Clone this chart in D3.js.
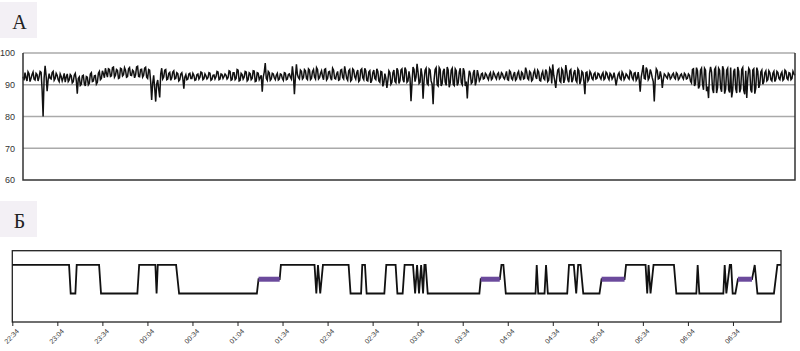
<!DOCTYPE html>
<html>
<head>
<meta charset="utf-8">
<script src="https://cdn.jsdelivr.net/npm/d3@7"></script>
<style>
  body { margin: 0; background: #fff; }
  svg { display: block; }
</style>
</head>
<body>
<svg width="800" height="351"></svg>
<script>
// Начало записи и длительность (мин)
const startTime = new Date(2000, 0, 1, 22, 34);
const totalMinutes = 512;

// Панель A: SpO2, отсчёт каждые 40 с
const spo2Interval = 40;
const spo2 = [
  92.5, 91.4, 93.8, 92.2, 91.2, 94.1, 93.5, 91.0, 92.0, 93.2, 94.0, 91.8, 91.5, 93.6, 93.2, 91.2, 92.4, 94.2, 93.9, 88.5,
  80.0, 92.0, 96.0, 92.8, 88.0, 91.6, 93.5, 92.0, 91.8, 93.8, 94.2, 91.4, 92.0, 93.6, 93.0, 91.6, 91.0, 93.4, 92.6, 91.2,
  92.2, 93.6, 90.8, 92.4, 93.4, 91.0, 91.5, 93.2, 92.8, 90.6, 91.0, 93.0, 93.6, 91.4, 87.2, 92.0, 92.5, 89.8, 90.2, 92.8,
  93.0, 90.4, 89.6, 92.6, 92.4, 90.0, 90.5, 93.4, 93.8, 91.0, 91.2, 92.8, 92.9, 90.2, 90.8, 93.6, 94.2, 91.6, 92.0, 94.4,
  93.5, 92.2, 95.2, 93.6, 92.4, 95.0, 94.8, 92.6, 92.8, 95.4, 95.6, 92.4, 93.0, 94.8, 94.5, 92.0, 92.2, 95.2, 95.0, 92.8,
  93.2, 95.4, 94.6, 92.4, 92.6, 95.0, 95.4, 93.0, 92.9, 94.6, 94.2, 92.2, 93.1, 95.6, 95.8, 92.6, 92.5, 94.8, 94.9, 92.4,
  93.0, 95.2, 95.5, 92.4, 92.0, 94.8, 94.6, 91.0, 85.2, 90.5, 93.0, 89.0, 84.7, 90.2, 91.5, 88.6, 86.0, 93.4, 95.2, 91.8,
  92.4, 94.6, 94.8, 91.6, 91.8, 93.6, 93.9, 91.4, 92.2, 94.0, 94.4, 91.8, 92.0, 93.8, 93.5, 91.2, 91.6, 93.4, 93.8, 92.0,
  88.8, 92.4, 93.2, 91.6, 91.8, 93.4, 93.6, 92.0, 92.0, 93.6, 93.0, 91.4, 91.6, 93.2, 93.4, 91.8, 92.4, 94.0, 93.8, 91.6,
  91.9, 93.4, 92.8, 91.8, 92.2, 93.8, 93.6, 91.4, 91.7, 93.0, 93.1, 91.8, 92.5, 94.2, 94.0, 91.6, 91.8, 93.4, 93.2, 92.0,
  92.6, 93.4, 93.0, 91.8, 92.2, 94.4, 94.2, 91.4, 91.6, 93.8, 93.8, 91.6, 92.0, 94.8, 94.6, 91.2, 91.4, 93.6, 93.2, 91.8,
  92.4, 94.2, 94.0, 91.2, 91.6, 93.8, 93.5, 91.6, 92.0, 94.4, 94.3, 91.0, 91.2, 93.8, 93.6, 91.6, 92.3, 93.0, 87.8, 92.4,
  94.0, 96.8, 92.0, 91.4, 94.2, 93.8, 91.4, 91.8, 93.6, 93.4, 92.2, 91.6, 93.0, 93.6, 91.5, 91.8, 93.4, 93.2, 92.0, 91.4,
  93.8, 93.6, 91.6, 91.8, 93.2, 93.4, 92.4, 91.8, 95.8, 93.0, 87.0, 92.4, 96.4, 93.2, 92.2, 91.8, 94.6, 94.2, 91.8, 92.2,
  94.8, 94.4, 92.0, 91.6, 95.0, 94.6, 91.6, 92.0, 94.2, 94.8, 92.4, 91.8, 95.4, 94.8, 91.8, 92.2, 93.6, 94.4, 92.6, 91.6,
  94.8, 95.0, 91.5, 92.0, 94.0, 94.2, 92.2, 91.4, 95.2, 94.6, 92.0, 91.8, 93.4, 94.2, 91.4, 91.6, 94.6, 94.8, 92.3, 91.8,
  95.8, 94.0, 92.0, 91.4, 94.4, 94.8, 91.2, 91.6, 95.0, 94.6, 92.5, 91.8, 93.8, 94.6, 91.0, 91.4, 94.6, 95.0, 92.2, 91.6,
  95.2, 94.4, 91.4, 91.2, 94.0, 94.4, 90.6, 91.4, 93.8, 94.6, 92.0, 91.6, 95.0, 94.2, 91.2, 90.8, 94.2, 94.0, 89.5, 90.6,
  93.5, 92.0, 89.0, 91.4, 94.4, 93.8, 90.2, 90.8, 93.8, 94.6, 91.0, 90.6, 95.2, 94.4, 90.4, 91.2, 94.6, 95.0, 91.6, 90.8,
  95.4, 94.6, 90.8, 91.2, 94.2, 92.0, 84.8, 90.6, 95.6, 94.8, 91.0, 92.4, 96.6, 94.0, 90.4, 90.8, 95.2, 93.0, 85.6, 91.4,
  94.6, 95.2, 90.4, 90.0, 95.0, 94.6, 91.2, 90.2, 83.9, 91.6, 94.8, 95.4, 90.0, 89.6, 95.4, 94.8, 89.6, 90.4, 94.2, 95.0,
  90.8, 89.8, 95.6, 94.6, 89.2, 90.6, 94.6, 95.2, 90.2, 89.8, 95.0, 94.4, 89.8, 90.6, 94.0, 95.2, 90.6, 90.0, 95.2, 94.2,
  89.6, 91.0, 85.7, 91.4, 94.4, 93.6, 90.4, 90.8, 93.8, 94.6, 89.8, 91.2, 94.6, 93.2, 91.2, 91.8, 93.4, 93.6, 91.8, 92.0,
  93.6, 93.2, 92.2, 91.6, 93.2, 93.8, 91.6, 92.0, 94.0, 93.4, 92.4, 91.8, 93.4, 93.8, 91.8, 92.2, 93.8, 93.4, 92.2, 91.8,
  93.0, 94.2, 91.6, 91.4, 94.4, 94.0, 92.0, 91.6, 93.2, 94.0, 91.4, 91.8, 93.6, 94.2, 92.2, 91.4, 94.0, 93.6, 91.8, 92.0,
  95.4, 94.2, 92.0, 91.6, 94.2, 93.8, 91.2, 91.6, 93.8, 94.6, 92.6, 91.8, 94.6, 94.0, 91.4, 91.2, 93.4, 94.2, 92.0, 91.6,
  94.8, 94.0, 91.0, 91.4, 95.2, 94.6, 90.4, 96.4, 93.0, 91.2, 89.0, 92.4, 94.6, 95.0, 91.2, 90.8, 95.0, 94.4, 90.6, 91.8,
  96.2, 94.0, 91.6, 90.8, 94.4, 94.8, 90.8, 91.6, 93.8, 94.6, 91.4, 90.8, 95.0, 94.4, 90.2, 91.4, 94.2, 93.8, 91.0, 87.0,
  93.8, 94.0, 91.2, 91.8, 94.2, 93.6, 92.0, 91.6, 93.4, 93.8, 91.8, 92.0, 93.6, 93.4, 92.4, 91.8, 93.2, 93.8, 91.6, 92.0,
  94.0, 93.6, 92.2, 91.6, 93.6, 93.2, 91.8, 92.4, 93.8, 92.0, 89.8, 91.6, 93.2, 93.8, 92.0, 91.6, 94.0, 93.4, 91.6, 92.2,
  93.4, 93.0, 92.2, 91.8, 94.4, 94.0, 92.2, 91.6, 93.6, 93.8, 91.4, 92.0, 94.0, 91.6, 87.8, 92.4, 94.2, 96.2, 92.0, 91.8,
  95.4, 94.6, 91.6, 92.2, 94.8, 93.8, 92.2, 91.0, 84.7, 91.8, 95.0, 94.4, 91.8, 92.0, 94.2, 92.6, 89.0, 91.6, 93.4, 93.0,
  92.4, 92.0, 93.6, 93.2, 91.8, 92.2, 93.2, 93.6, 92.2, 91.8, 93.8, 93.4, 91.6, 92.0, 93.0, 93.4, 92.4, 91.8, 93.6, 93.2,
  91.8, 92.0, 93.4, 93.0, 91.2, 90.6, 94.8, 95.0, 89.6, 90.4, 95.4, 94.4, 88.8, 89.6, 94.6, 95.2, 90.2, 88.4, 95.2, 94.6,
  88.0, 89.4, 85.8, 93.6, 95.6, 94.0, 88.6, 87.4, 94.8, 95.4, 87.4, 89.2, 95.2, 94.6, 89.0, 87.8, 95.8, 94.8, 87.2, 88.6,
  94.6, 95.2, 88.4, 87.6, 95.4, 86.0, 88.2, 94.2, 95.0, 88.8, 87.4, 95.6, 94.2, 87.6, 88.8, 94.8, 95.4, 88.2, 87.0, 94.4,
  85.8, 92.0, 95.2, 94.6, 88.4, 87.6, 94.6, 95.0, 87.2, 89.0, 95.4, 94.2, 89.0, 90.2, 94.0, 94.6, 90.2, 91.0, 93.8, 94.4,
  91.2, 91.6, 94.4, 93.8, 91.6, 91.2, 93.6, 94.2, 91.0, 91.8, 94.2, 93.8, 92.0, 91.6, 93.4, 94.0, 91.4, 91.8, 94.6, 94.2,
  92.0, 91.6, 93.8, 93.6, 91.6, 92.0, 94.2, 93.4, 93.0
];
const spo2Ticks = [60, 70, 80, 90, 100];

// Панель Б: состояние (1 — верх, 0 — низ, 0.5 — промежуточное)
const stateMinutes = [
  0, 37.8, 38.9, 42, 42.9, 57.8, 59.1, 83.3, 84.5, 95.3, 96.1, 96.9, 109.1, 111.1,
  162.9, 164, 178.1, 178.9, 201.3, 202.5, 203.6, 205.1, 206.9, 224, 225.3, 232.3, 233.1,
  234.9, 236, 247.8, 249.1, 255.3, 256.5, 260, 261.3, 266.9, 268.3, 269.6, 270.9, 272.3,
  273.6, 274.5, 275.3, 276.7, 311.1, 312, 324.7, 325.8, 327.1, 328.7, 348.5, 349.3, 350.3,
  354.5, 355.5, 356.7, 369.6, 370.8, 374, 375.6, 376.9, 378.5, 380.3, 391.1, 392.5, 407.8,
  408.8, 421.8, 422.9, 423.8, 425.1, 427.1, 440.7, 442.3, 455.6, 456.5, 457.6, 473.6, 474.5,
  475.6, 477.9, 478.8, 479.8, 481.6, 483.3, 492.7, 494.5, 496.3, 507.3, 509.6, 512
];
const stateLevels = [
  1, 1, 0, 0, 1, 1, 0, 0, 1, 1, 0, 1, 1, 0,
  0, 0.5, 0.5, 1, 1, 0, 1, 0, 1, 1, 0, 0, 1,
  1, 0, 0, 1, 1, 0, 0, 1, 1, 0, 1, 0, 1,
  0, 1, 1, 0, 0, 0.5, 0.5, 1, 1, 0, 0, 1, 0,
  0, 1, 0, 0, 1, 1, 0, 1, 1, 0, 0, 0.5, 0.5,
  1, 1, 0, 1, 0, 1, 1, 0, 0, 1, 0, 0, 1,
  0, 1, 1, 0, 0, 0.5, 0.5, 1, 0, 0, 1, 1
];
// Промежуточные эпизоды (начало, конец в минутах)
const midEpisodes = [[164, 178.1], [312, 324.7], [392.5, 407.8], [483.3, 492.7]];

const timeLabels = ["22:34", "23:04", "23:34", "00:04", "00:34", "01:04", "01:34", "02:04", "02:34",
  "03:04", "03:34", "04:04", "04:34", "05:04", "05:34", "06:04", "06:34"];

const minToDate = m => new Date(startTime.getTime() + m * 60000);
const labelToDate = s => {
  const [h, m] = s.split(":").map(Number);
  return new Date(2000, 0, h < 12 ? 2 : 1, h, m);
};

const svg = d3.select("svg");

// Подписи панелей
function panelLabel(y, txt, baseline) {
  svg.append("rect").attr("x", 0).attr("y", y).attr("width", 37).attr("height", 36).attr("fill", "#f3f0f5");
  svg.append("text").attr("x", 19.5).attr("y", baseline).attr("text-anchor", "middle")
    .attr("font-family", "Liberation Serif, serif").attr("font-size", 20).attr("fill", "#222").text(txt);
}
panelLabel(2, "A", 28.5);
panelLabel(201, "Б", 227.5);

// ---------- Панель A ----------
const xA = d3.scaleTime().domain([startTime, minToDate(totalMinutes)]).range([23, 795]);
const yA = d3.scaleLinear().domain([60, 100]).range([180, 53]);

svg.append("g").selectAll("line").data(spo2Ticks.filter(d => d > 60)).join("line")
  .attr("x1", 23).attr("x2", 795)
  .attr("y1", d => yA(d)).attr("y2", d => yA(d))
  .attr("stroke", "#aaa").attr("stroke-width", 1.5);

const axA = svg.append("g").attr("transform", "translate(23,0)")
  .call(d3.axisLeft(yA).tickValues(spo2Ticks).tickSize(0).tickPadding(8));
axA.select(".domain").remove();
axA.selectAll("text").attr("font-family", "Liberation Sans, Arial, sans-serif").attr("font-size", 9).attr("fill", "#333");

const lineA = d3.line()
  .x((d, i) => xA(minToDate(i * spo2Interval / 60)))
  .y(d => yA(d));
svg.append("path").datum(spo2).attr("d", lineA)
  .attr("fill", "none").attr("stroke", "#111").attr("stroke-width", 1.5);

svg.append("path")
  .attr("d", `M${xA.range()[0]},${yA(100)}V${yA(60)}H${xA.range()[1]}V${yA(100)}`)
  .attr("fill", "none").attr("stroke", "#333").attr("stroke-width", 1.5);

// ---------- Панель Б ----------
const xB = d3.scaleTime().domain([startTime, minToDate(totalMinutes)]).range([12.3, 781]);
const yB = d3.scaleLinear().domain([-1, 1.5]).range([322, 250.7]);

svg.append("rect").attr("x", xB.range()[0]).attr("y", yB(1.5))
  .attr("width", xB.range()[1] - xB.range()[0]).attr("height", yB(-1) - yB(1.5))
  .attr("fill", "none").attr("stroke", "#222").attr("stroke-width", 1.3);

const stateData = stateMinutes.map((m, i) => [minToDate(m), stateLevels[i]]);
svg.append("path").datum(stateData)
  .attr("d", d3.line().x(d => xB(d[0])).y(d => yB(d[1])))
  .attr("fill", "none").attr("stroke", "#111").attr("stroke-width", 1.8);

svg.append("g").selectAll("line").data(midEpisodes).join("line")
  .attr("x1", d => xB(minToDate(d[0]))).attr("x2", d => xB(minToDate(d[1])))
  .attr("y1", yB(0.5)).attr("y2", yB(0.5))
  .attr("stroke", "#6b4a9c").attr("stroke-width", 5);

const axB = svg.append("g").attr("transform", `translate(0,${yB(-1)})`)
  .call(d3.axisBottom(xB).tickValues(timeLabels.map(labelToDate)).tickSize(4)
    .tickFormat((d, i) => timeLabels[i]));
axB.select(".domain").remove();
axB.selectAll(".tick line").attr("stroke", "#222");
axB.selectAll("text")
  .attr("font-family", "Liberation Sans, Arial, sans-serif").attr("font-size", 7).attr("fill", "#333")
  .attr("text-anchor", "end")
  .attr("transform", "translate(5,8) rotate(-45)")
  .attr("y", 0).attr("dy", "0.35em");
</script>
</body>
</html>
